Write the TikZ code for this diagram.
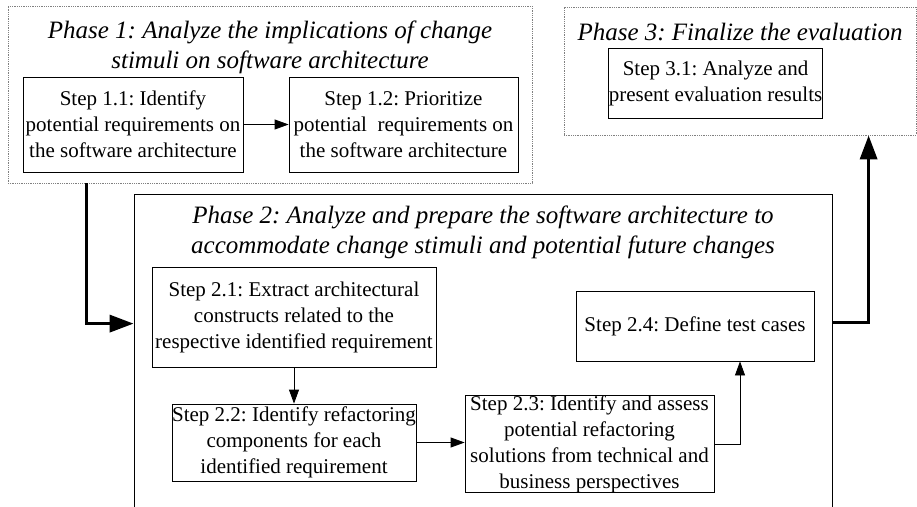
\documentclass[tikz,border=0pt]{standalone}
\usepackage{fontspec}
\setmainfont{Liberation Serif}
\usetikzlibrary{arrows.meta,calc}
\frenchspacing
\begin{document}
\begin{tikzpicture}[x=1pt,y=-1pt,
  stepbox/.style={draw=black,line width=0.8pt,align=center,inner sep=0pt,
    font=\fontsize{21}{26}\selectfont},
  phasebox/.style={draw=gray,densely dotted,line width=0.8pt,inner sep=0pt},
  phasebox2/.style={draw=black,line width=0.8pt,inner sep=0pt},
  title/.style={align=center,inner sep=0pt,font=\fontsize{25}{30}\selectfont\itshape},
  thin/.style={line width=0.8pt,-{Triangle[length=14pt,width=10pt]}},
  thick/.style={line width=3.5pt,-{Triangle[length=24pt,width=17pt]}}]
\useasboundingbox (0,0) rectangle (917,506);
% phase containers
\node[phasebox,minimum width=524pt,minimum height=177pt] (p1) at (270,94.5) {};
\node[phasebox,minimum width=352pt,minimum height=128pt] (p3) at (740,71) {};
\node[phasebox2,minimum width=698pt,minimum height=340pt] (p2) at (483,364) {};
% titles
\node[title] (t1) at (270,47) {Phase 1: Analyze the implications of change\\stimuli on software architecture};
\node[title] (t3) at (740,32) {Phase 3: Finalize the evaluation};
\node[title] (t2) at (483,232) {Phase 2: Analyze and prepare the software architecture to\\accommodate change stimuli and potential future changes};
% steps
\node[stepbox,minimum width=220pt,minimum height=95pt] (s11) at (133,124.5) {Step 1.1: Identify\\potential requirements on\\the software architecture};
\node[stepbox,minimum width=229pt,minimum height=95pt] (s12) at (403.5,124.5) {Step 1.2: Prioritize\\potential\ \ requirements on\\the software architecture};
\node[stepbox,minimum width=155pt,minimum height=70pt] (s31) at (715.5,83) {Step 3.1: Analyze and\\present evaluation results};
\node[stepbox,minimum width=284pt,minimum height=100pt] (s21) at (294,317) {Step 2.1: Extract architectural\\constructs related to the\\respective identified requirement};
\node[stepbox,minimum width=244pt,minimum height=77pt] (s22) at (294,442.5) {Step 2.2: Identify refactoring\\components for each\\identified requirement};
\node[stepbox,minimum width=249pt,minimum height=96pt] (s23) at (589.5,444) {Step 2.3: Identify and assess\\potential refactoring\\solutions from technical and\\business perspectives};
\node[stepbox,minimum width=238pt,minimum height=70pt] (s24) at (695,326) {Step 2.4: Define test cases};
% connectors
\draw[thin] (s11) -- (s12);
\draw[thin] (s21) -- (s22);
\draw[thin] (s22.east) -- (s23.west |- s22.east);
\draw[thin] (s23.east) -| ($(s24.south)+(45,0)$);
\coordinate (a1) at ($(p1.south west)+(79,0)$);
\coordinate (a1e) at ($(p2.north west)+(0,130)$);
\draw[thick] (a1) |- (a1e);
\coordinate (a2) at ($(p2.north east)+(0,129)$);
\coordinate (a2t) at ($(p3.south west)+(305,0)$);
\draw[thick] (a2) -| (a2t);
\end{tikzpicture}
\end{document}
